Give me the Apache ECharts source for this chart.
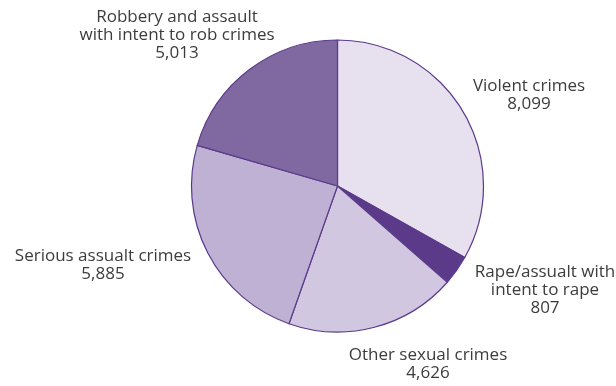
<!DOCTYPE html>
<html>
<head>
<meta charset="utf-8">
<script src="https://cdn.jsdelivr.net/npm/echarts@6/dist/echarts.min.js"></script>
<style>
  html, body { margin: 0; padding: 0; background: #ffffff; }
  #chart { width: 616px; height: 386px; }
</style>
</head>
<body>
<div id="chart"></div>
<script>
// Crime categories, clockwise from twelve o'clock
const categories = [
  'Violent crimes',
  'Rape/assualt with\nintent to rape',
  'Other sexual crimes',
  'Serious assualt crimes',
  'Robbery and assault\nwith intent to rob crimes'
];
const counts = [8099, 807, 4626, 5885, 5013];
const sliceColors = ['#e7e0ef', '#5b3a8a', '#d1c7e0', '#bfb1d3', '#8068a1'];

// Label anchor points (centre of each text block)
const labelSpots = [
  [529, 95],
  [545, 290],
  [428, 364],
  [103, 265],
  [177, 35]
];

const chart = echarts.init(document.getElementById('chart'), null, { renderer: 'canvas' });

chart.setOption({
  animation: false,
  series: [{
    type: 'pie',
    center: [337.5, 186],
    radius: 146,
    startAngle: 90,
    clockwise: true,
    avoidLabelOverlap: false,
    data: categories.map((name, i) => ({
      name: name,
      value: counts[i],
      itemStyle: { color: sliceColors[i] }
    })),
    itemStyle: { borderColor: '#5b3a8a', borderWidth: 1.2 },
    label: {
      show: true,
      position: 'outside',
      formatter: p => p.name + '\n' + p.value.toLocaleString('en-US'),
      fontFamily: 'Open Sans',
      fontSize: 17,
      lineHeight: 18,
      color: '#3c3c3c',
      align: 'center'
    },
    labelLine: { show: false },
    labelLayout: p => ({
      x: labelSpots[p.dataIndex][0],
      y: labelSpots[p.dataIndex][1],
      align: 'center',
      verticalAlign: 'middle'
    }),
    emphasis: { disabled: true }
  }]
});
</script>
</body>
</html>
